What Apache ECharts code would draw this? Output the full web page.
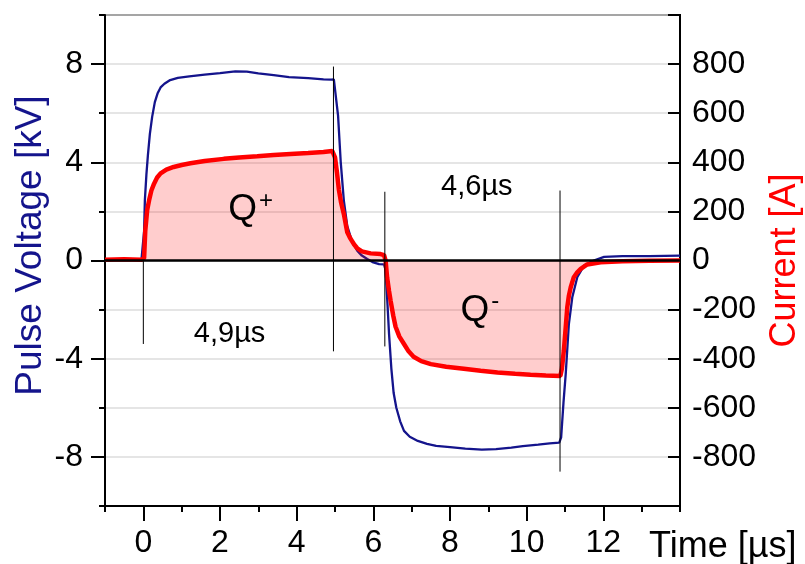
<!DOCTYPE html>
<html>
<head>
<meta charset="utf-8">
<script src="https://cdn.jsdelivr.net/npm/echarts@6/dist/echarts.min.js"></script>
<style>html,body{margin:0;padding:0;background:#fff}#c{width:805px;height:564px}</style>
</head>
<body>
<div id="c"></div>
<script>
// Time axis ticks (µs)
const xMajorTicks = [0, 2, 4, 6, 8, 10, 12];
const yMajorTicks = [-8, -4, 0, 4, 8];

// Pulse voltage [kV] vs time [µs]
const voltageTime = [-1.0,-0.5,-0.05,0.0,0.02,0.04,0.08,0.12,0.17,0.23,0.3,0.37,0.45,0.55,0.7,0.9,1.2,1.6,2.0,2.4,2.7,3.0,3.4,3.8,4.3,4.7,4.9,4.97,5.02,5.08,5.15,5.23,5.32,5.45,5.58,5.7,5.84,6.0,6.15,6.28,6.32,6.37,6.41,6.47,6.53,6.6,6.7,6.8,6.95,7.16,7.4,7.64,8.0,8.4,8.83,9.2,9.6,9.9,10.3,10.6,10.85,10.9,10.96,11.02,11.1,11.19,11.32,11.5,11.75,12.02,12.5,13.2,14.0];
const voltageKV = [0.02,0.03,0.02,0.05,1.2,2.45,3.5,4.3,5.15,5.85,6.45,6.8,7.05,7.2,7.35,7.44,7.5,7.57,7.63,7.7,7.69,7.62,7.55,7.47,7.43,7.38,7.37,7.38,7.3,5.9,4.0,2.45,1.4,0.75,0.4,0.2,0.06,-0.08,-0.15,-0.16,-0.4,-1.8,-3.0,-4.4,-5.4,-6.0,-6.55,-6.94,-7.18,-7.35,-7.47,-7.55,-7.6,-7.66,-7.7,-7.68,-7.62,-7.56,-7.5,-7.45,-7.42,-7.2,-5.8,-4.6,-2.6,-1.5,-0.68,-0.2,0.0,0.15,0.18,0.18,0.2];

// Current [A] vs time [µs]
const currentTime = [-1.0,-0.5,-0.05,0.02,0.05,0.1,0.15,0.21,0.28,0.36,0.45,0.6,0.79,1.0,1.23,1.6,2.1,2.5,2.97,3.4,3.84,4.3,4.7,4.93,5.0,5.05,5.1,5.16,5.23,5.32,5.4,5.5,5.58,5.7,5.93,6.19,6.28,6.32,6.36,6.41,6.45,6.52,6.58,6.68,6.8,6.92,7.05,7.25,7.5,7.9,8.36,8.8,9.24,9.7,10.1,10.5,10.88,10.92,10.97,11.02,11.06,11.1,11.15,11.23,11.32,11.41,11.58,11.93,12.5,13.2,14.0];
const currentA = [3,5,3,10,120,205,245,285,313,338,355,370,381,389,396,405,414,420,425,430,434,438,442,446,420,360,290,235,190,115,90,65,50,37,29,26,22,0,-70,-125,-163,-225,-270,-310,-340,-370,-392,-410,-422,-433,-441,-449,-456,-461,-465,-468,-470,-440,-367,-270,-190,-145,-109,-68,-48,-34,-16,-7,-3,-1,0];

// Vertical duration markers: [time µs, from kV, to kV]
const markerLines = [[0.0, 0.0, -3.4], [4.96, 7.9, -3.7], [6.3, 2.8, -3.5], [10.87, 2.85, -8.6]];

// Text annotations: [time µs, kV, text]
const annotations = [
  [2.8, 2.05, '{q|Q}{s|+}'],
  [8.78, -2.05, '{q|Q}{s|-}'],
  [2.25, -3.0, '4,9µs'],
  [8.7, 3.0, '4,6µs']
];

const FONT = "'Liberation Sans', Arial, sans-serif";
const BLUE = '#14148c';
const RED = '#ff0000';

const chart = echarts.init(document.getElementById('c'), null, {renderer: 'canvas'});

const zip = (a, b) => a.map((v, i) => [v, b[i]]);

const annLabel = {
  show: true, position: 'inside', color: '#000', fontFamily: FONT, fontSize: 29,
  textBorderWidth: 0, opacity: 1,
  rich: {
    q: {fontSize: 37, fontFamily: FONT, color: '#000', lineHeight: 40},
    s: {fontSize: 24, fontFamily: FONT, color: '#000', lineHeight: 40, padding: [0, 0, 18, 2]}
  }
};

const series = [
  {
    name: 'Pulse Voltage', type: 'line', xAxisIndex: 0, yAxisIndex: 0,
    data: zip(voltageTime, voltageKV), showSymbol: false, symbol: 'none',
    lineStyle: {color: BLUE, width: 2.3}, z: 2, silent: true
  },
  {
    name: 'Current', type: 'line', xAxisIndex: 0, yAxisIndex: 2,
    data: zip(currentTime, currentA), showSymbol: false, symbol: 'none',
    lineStyle: {color: RED, width: 4.5}, areaStyle: {color: 'rgba(255,0,0,0.28)', origin: 0},
    z: 3, silent: true
  },
  {
    name: 'zero', type: 'line', xAxisIndex: 0, yAxisIndex: 0,
    data: [[-1, 0], [14, 0]], symbol: 'none',
    lineStyle: {color: '#000', width: 2.5}, z: 6, silent: true
  }
];
markerLines.forEach((m, i) => {
  series.push({
    name: 'marker' + i, type: 'line', xAxisIndex: 0, yAxisIndex: 0,
    data: [[m[0], m[1]], [m[0], m[2]]], symbol: 'none',
    lineStyle: {color: '#000', width: 1}, z: 5, silent: true
  });
});
series.push({
  name: 'labels', type: 'scatter', xAxisIndex: 0, yAxisIndex: 0,
  data: annotations.map(a => ({value: [a[0], a[1]], label: Object.assign({}, annLabel, {formatter: a[2]})})),
  symbolSize: 1, itemStyle: {color: 'rgba(0,0,0,0)', opacity: 1}, z: 7, silent: true,
  emphasis: {disabled: true},
  label: annLabel
});

const axisLineStyle = {color: '#000', width: 2};

chart.setOption({
  animation: false,
  backgroundColor: '#fff',
  grid: {left: 105, right: 125, top: 15, bottom: 58, show: true, borderColor: '#000', borderWidth: 2,
    containLabel: false, outerBoundsMode: 'none'},
  xAxis: [
    {
      type: 'value', position: 'bottom', min: -1, max: 14, interval: 1,
      axisLine: {show: true, onZero: false, lineStyle: axisLineStyle},
      axisTick: {show: true, inside: false, length: 6, lineStyle: axisLineStyle},
      axisLabel: {show: false}, splitLine: {show: false},
      name: 'Time [µs]', nameLocation: 'end', nameGap: -31,
      nameTextStyle: {fontFamily: FONT, fontSize: 36, color: '#000', align: 'left', verticalAlign: 'top', lineHeight: 82}
    },
    {
      type: 'value', position: 'bottom', min: -1, max: 14,
      axisLine: {show: false, onZero: false},
      axisTick: {show: true, inside: false, length: 15, lineStyle: axisLineStyle, customValues: xMajorTicks},
      axisLabel: {show: true, margin: 21, fontFamily: FONT, fontSize: 32, color: '#000', customValues: xMajorTicks},
      splitLine: {show: false}
    }
  ],
  yAxis: [
    {
      type: 'value', position: 'left', min: -10, max: 10, interval: 2,
      axisLine: {show: true, onZero: false, lineStyle: axisLineStyle},
      axisTick: {show: true, inside: false, length: 6, lineStyle: axisLineStyle},
      axisLabel: {show: false},
      splitLine: {show: true, lineStyle: {color: '#dcdcdc', width: 1.5}},
      name: 'Pulse Voltage [kV]', nameLocation: 'middle', nameGap: 56,
      nameTextStyle: {fontFamily: FONT, fontSize: 37, color: BLUE, padding: [0, 0, 0, 30]}
    },
    {
      type: 'value', position: 'left', min: -10, max: 10,
      axisLine: {show: false, onZero: false},
      axisTick: {show: true, inside: false, length: 14, lineStyle: axisLineStyle, customValues: yMajorTicks},
      axisLabel: {show: true, margin: 22, fontFamily: FONT, fontSize: 32, color: '#000', customValues: yMajorTicks},
      splitLine: {show: false}
    },
    {
      type: 'value', position: 'right', min: -1000, max: 1000, interval: 200,
      axisLine: {show: true, onZero: false, lineStyle: axisLineStyle},
      axisTick: {show: true, inside: true, length: 12, lineStyle: axisLineStyle},
      axisLabel: {show: true, margin: 12, fontFamily: FONT, fontSize: 32, color: '#000',
        formatter: v => (Math.abs(v) === 1000 ? '' : String(v))},
      splitLine: {show: false},
      name: 'Current [A]', nameLocation: 'middle', nameGap: 78,
      nameTextStyle: {fontFamily: FONT, fontSize: 36, color: RED}
    }
  ],
  series: series
});
</script>
</body>
</html>
